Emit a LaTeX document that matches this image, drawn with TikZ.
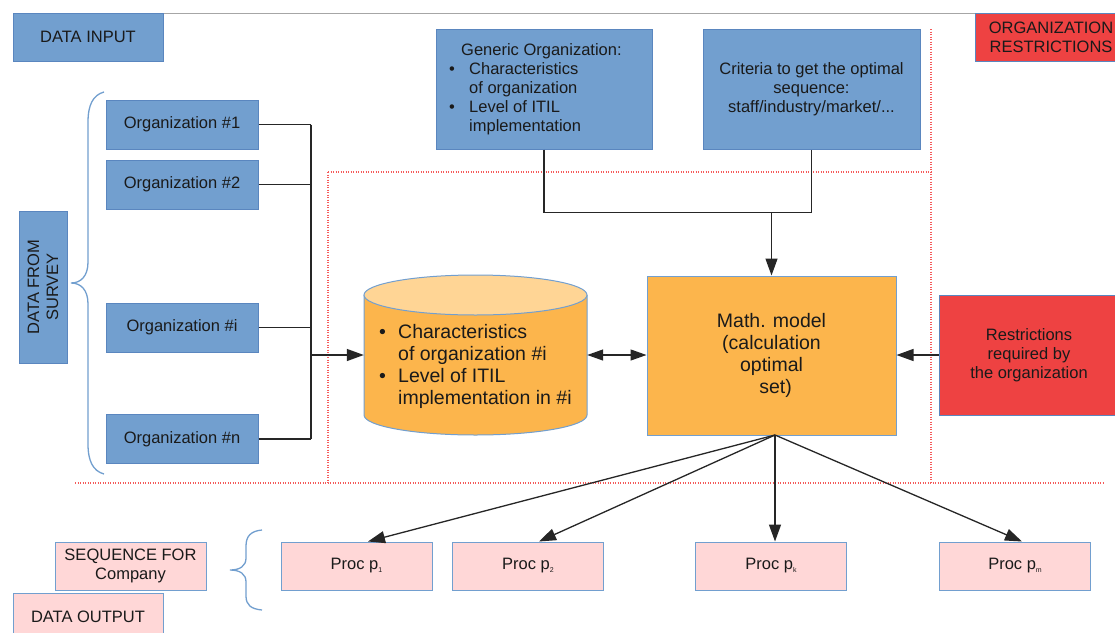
\documentclass[tikz,border=0pt]{standalone}
\usepackage{fontspec}
\setmainfont{Liberation Sans}
\usetikzlibrary{arrows.meta,calc}
\definecolor{cblue}{HTML}{729FCF}
\definecolor{cblueb}{HTML}{5A86BF}
\definecolor{corange}{HTML}{FCB54C}
\definecolor{clight}{HTML}{FFD595}
\definecolor{cred}{HTML}{EE4242}
\definecolor{cpink}{HTML}{FFD7D7}
\definecolor{cdot}{HTML}{F55A5A}
\definecolor{ctext}{HTML}{1A1A1A}
\newcommand{\fsn}{\fontsize{16.5}{19}\selectfont}
\newcommand{\fsb}{\fontsize{19.5}{22}\selectfont}
\newcommand{\subs}[1]{\raisebox{-3pt}{\fontsize{7}{8}\selectfont #1}}
\tikzset{
  boxbase/.style={draw, line width=1pt, inner sep=0pt, align=center, text=ctext, font=\fsn},
  bluebox/.style={boxbase, fill=cblue, draw=cblueb},
  redbox/.style={boxbase, fill=cred, draw=cblueb},
  pinkbox/.style={boxbase, fill=cpink, draw=cblue},
  orangebox/.style={boxbase, fill=corange, draw=cblue, font=\fsb},
  conn/.style={line width=1.3pt, draw=black!85},
  arr/.style={conn, -{Triangle[length=17pt,width=12pt]}},
  arrs/.style={conn, -{Triangle[length=17pt,width=12pt]}},
  arrd/.style={conn, {Triangle[length=16pt,width=11pt]}-{Triangle[length=16pt,width=11pt]}},
  reddot/.style={draw=cdot, line width=1.2pt, dash pattern=on 1.2pt off 1.3pt},
  bracel/.style={draw=cblue, line width=1.3pt},
}
\begin{document}
\begin{tikzpicture}[x=1pt,y=-1pt]
\useasboundingbox (0,0) rectangle (1115,632);
\fill[white] (0,0) rectangle (1115,632);

% top gray line
\draw[gray!70, line width=1pt] (163,13) -- (1115,13);

% red dotted regions
\draw[reddot] (75,483) -- (1103,483);
\draw[reddot] (328,172) -- (328,483);
\draw[reddot] (328,172) -- (931,172);
\draw[reddot] (931,29) -- (931,483);

% labels
\node[bluebox, minimum width=150, minimum height=48] (din) at (88,37) {DATA INPUT};
\node[bluebox, minimum width=152, minimum height=48, rotate=90] (dfs) at (43,287) {DATA FROM\\SURVEY};
\node[redbox, minimum width=152, minimum height=48] (orgr) at (1051,37) {ORGANIZATION\\RESTRICTIONS};
\node[pinkbox, minimum width=151, minimum height=48] (seq) at (130.5,566) {SEQUENCE FOR\\Company};
\node[pinkbox, minimum width=150, minimum height=48] (dout) at (88,617) {DATA OUTPUT};

% organizations
\node[bluebox, minimum width=152, minimum height=49] (o1) at (182,124.5) {Organization \#1};
\node[bluebox, minimum width=152, minimum height=49] (o2) at (182,184.5) {Organization \#2};
\node[bluebox, minimum width=152, minimum height=49] (oi) at (182,327.5) {Organization \#i};
\node[bluebox, minimum width=152, minimum height=49] (on) at (182,439) {Organization \#n};

% braces
\draw[bracel] (104,92) .. controls (93,95) and (88,105) .. (88,122) -- (88,262)
  .. controls (88,276) and (81,283) .. (71,283)
  .. controls (81,283) and (88,290) .. (88,304) -- (88,444)
  .. controls (88,461) and (93,471) .. (104,474);
\draw[bracel] (262,530) .. controls (251,531) and (246,536) .. (246,546) -- (246,558)
  .. controls (246,566) and (240,570) .. (230,570)
  .. controls (240,570) and (246,574) .. (246,582) -- (246,596)
  .. controls (246,605) and (251,609) .. (262,610);

% top boxes
\node[bluebox, minimum width=216, minimum height=120] (gen) at (544,89) {};
\node[anchor=west, align=left, inner sep=0pt, text=ctext, font=\fsn] (gentext) at (449,89)
  {\hspace*{12pt}Generic Organization:\\
   \makebox[20pt][l]{\textbullet}Characteristics\\
   \hspace*{20pt}of organization\\
   \makebox[20pt][l]{\textbullet}Level of ITIL\\
   \hspace*{20pt}implementation};
\node[bluebox, minimum width=217, minimum height=120] (crit) at (811.5,89)
  {Criteria to get the optimal\\sequence:\\staff/industry/market/...};

% cylinder
\fill[corange] (364,295) -- (364,415) arc[start angle=180, end angle=0, x radius=111.5, y radius=20] -- (587,295) -- cycle;
\draw[cblue, line width=1pt] (364,295) -- (364,415) arc[start angle=180, end angle=0, x radius=111.5, y radius=20] -- (587,295);
\draw[cblue, line width=1pt, fill=clight] (475.5,295) ellipse[x radius=111.5, y radius=20];
\node[minimum width=223, minimum height=120, inner sep=0pt] (cyl) at (475.5,355) {};
\node[anchor=west, align=left, inner sep=0pt, text=ctext, font=\fsb] (cyltext) at (379,366)
  {\makebox[19pt][l]{\textbullet}Characteristics\\
   \hspace*{19pt}of organization \#i\\
   \makebox[19pt][l]{\textbullet}Level of ITIL\\
   \hspace*{19pt}implementation in \#i};

% math model and restrictions
\node[orangebox, minimum width=249, minimum height=159] (math) at (771.5,355.5)
  {Math. model\\(calculation\\optimal\\\hspace*{8pt}set)};
\node[redbox, minimum width=180, minimum height=120] (restr) at (1029,355)
  {Restrictions\\required by\\the organization};

% procs
\node[pinkbox, minimum width=151, minimum height=48] (p1) at (356.5,566) {Proc p\subs{1}};
\node[pinkbox, minimum width=151, minimum height=48] (p2) at (528,566) {Proc p\subs{2}};
\node[pinkbox, minimum width=151, minimum height=48] (pk) at (771,566) {Proc p\subs{k}};
\node[pinkbox, minimum width=151, minimum height=48] (pm) at (1015,566) {Proc p\subs{m}};

% organization bus
\coordinate (bt) at (311,124.5);
\coordinate (bb) at (311,439);
\coordinate (ba) at (311,355);
\draw[conn] (o1.east) -- (o1.east -| bt);
\draw[conn] (o2.east) -- (o2.east -| bt);
\draw[conn] (oi.east) -- (oi.east -| bt);
\draw[conn] (on.east) -- (on.east -| bt);
\draw[conn] (bt) -- (bb);
\draw[arrs] (ba) -- (ba -| cyl.west);

% criteria to math
\coordinate (jn) at (771.5,212);
\draw[conn] (gen.south) |- ($(crit.south)+(0,63)$) -- (crit.south);
\draw[arr] (jn) -- (math.north);

% horizontal arrows
\draw[arrd] (cyl.east) -- (cyl.east -| math.west);
\draw[arrs] (restr.west) -- (restr.west -| math.east);

% fan out
\coordinate (ms) at (775,435);
\draw[arrs] (ms) -- ([xshift=11.5]p1.north);
\draw[arrs] (ms) -- ([xshift=11]p2.north);
\draw[arrs] (ms) -- ([xshift=4]pk.north);
\draw[arrs] (ms) -- ([xshift=7]pm.north);
\end{tikzpicture}
\end{document}
